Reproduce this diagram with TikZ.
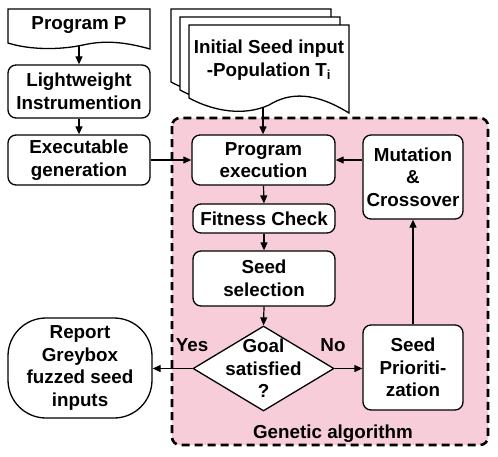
\documentclass[tikz,border=0pt]{standalone}
\usepackage{fontspec}
\setmainfont{Liberation Sans}
\usetikzlibrary{arrows.meta,shapes.geometric}
\definecolor{gapink}{RGB}{248,205,218}
\begin{document}
\begin{tikzpicture}[x=1pt,y=-1pt,
  font=\fontsize{18.8}{22.5}\selectfont\bfseries,
  box/.style={draw, line width=1.3pt, rounded corners=8pt, fill=white, align=center, inner sep=0pt},
  docshape/.style={draw, line width=1.3pt, fill=white},
  lbl/.style={align=center, inner sep=0pt},
  arr/.style={-{Triangle[length=8pt,width=7pt]}, line width=1.2pt}]
\useasboundingbox (0,0) rectangle (498,456);

% genetic algorithm region
\draw[fill=gapink, line width=2.6pt, dash pattern=on 8pt off 5pt, rounded corners=8pt]
  (172,118) rectangle (488,445);
\node[lbl] (ga) at (333,434) {Genetic algorithm};

% Program P document
\draw[docshape] (8,9) -- (150,9) -- (150,49) .. controls (125,42) and (105,40) .. (83,45)
  .. controls (60,50) and (30,50) .. (8,43) -- cycle;
\node[lbl] (progP) at (79,25.5) {Program P};
\coordinate (pb) at (79,46);

% stacked seed documents
\draw[docshape] (171,9) -- (331,9) -- (331,97) .. controls (297,76) and (272,76) .. (251,89)
  .. controls (227,100) and (197,96) .. (171,82) -- cycle;
\draw[docshape] (180,17) -- (340,17) -- (340,105) .. controls (306,84) and (281,84) .. (260,97)
  .. controls (236,108) and (206,104) .. (180,90) -- cycle;
\draw[docshape] (189,25) -- (349,25) -- (349,113) .. controls (315,92) and (290,92) .. (269,105)
  .. controls (245,116) and (215,112) .. (189,98) -- cycle;
\node[lbl] (seedP) at (269,60) {Initial Seed input\\-Population T\textsubscript{i}};
\coordinate (sb) at (263,108);

% boxes
\node[box, minimum width=142pt, minimum height=53pt] (light) at (79,91.5) {Lightweight\\Instrumention};
\node[box, minimum width=142pt, minimum height=50pt] (exec) at (79,160) {Executable\\generation};
\node[box, minimum width=143pt, minimum height=50pt] (pe) at (263.5,160) {Program\\execution};
\node[box, minimum width=100pt, minimum height=84pt] (mut) at (413,177) {Mutation\\\&\\Crossover};
\node[box, minimum width=142pt, minimum height=29pt] (fit) at (264,218.5) {Fitness Check};
\node[box, minimum width=142pt, minimum height=55pt] (sel) at (264,278.5) {Seed\\selection};
\node[draw, diamond, line width=1.3pt, fill=white, inner sep=0pt, minimum width=141pt, minimum height=85pt,
  label={[lbl]center:Goal\\satisfied\\?}] (goal) at (263.5,368.5) {};
\node[box, minimum width=100pt, minimum height=85pt] (prio) at (413,367.5) {Seed\\Prioriti-\\zation};
\node[box, rounded corners=38pt, minimum width=144pt, minimum height=100pt] (rep) at (80,368)
  {Report\\Greybox\\fuzzed seed\\inputs};

\node[lbl] (yes) at (192,345) {Yes};
\node[lbl] (no) at (333,345) {No};

% connectors
\draw[arr] (pb) -- (light.north);
\draw[arr] (light.south) -- (exec.north);
\draw[arr] (exec.east) -- (pe.west);
\draw[arr] (sb) -- (pe.north -| sb);
\draw[arr] (mut.west |- pe.east) -- (pe.east);
\draw[arr] (pe.south) -- (fit.north);
\draw[arr] (fit.south) -- (sel.north);
\draw[arr] (sel.south) -- (goal.north);
\draw[arr] (goal.east) -- (prio.west |- goal.east);
\draw[arr] (prio.north) -- (mut.south);
\draw[arr] (goal.west) -- (rep.east |- goal.west);
\end{tikzpicture}
\end{document}
